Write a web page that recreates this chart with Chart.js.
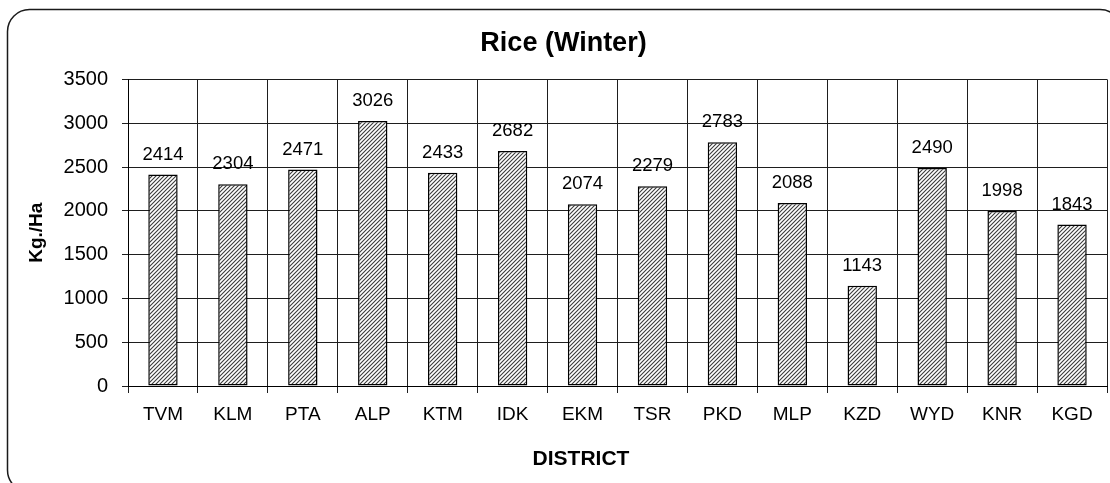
<!DOCTYPE html>
<html>
<head>
<meta charset="utf-8">
<script src="https://cdn.jsdelivr.net/npm/chart.js@4/dist/chart.umd.min.js"></script>
<style>
  html, body { margin: 0; padding: 0; background: #fff; }
  #wrap { width: 1110px; height: 483px; }
</style>
</head>
<body>
<div id="wrap"><canvas id="c" width="1110" height="483"></canvas></div>
<script>
// District-wise winter rice yield
const districts = ['TVM', 'KLM', 'PTA', 'ALP', 'KTM', 'IDK', 'EKM', 'TSR', 'PKD', 'MLP', 'KZD', 'WYD', 'KNR', 'KGD'];
const yieldKgHa = [2414, 2304, 2471, 3026, 2433, 2682, 2074, 2279, 2783, 2088, 1143, 2490, 1998, 1843];
const yTicks = [0, 500, 1000, 1500, 2000, 2500, 3000, 3500];

const FONT = '"Liberation Sans", Arial, Helvetica, sans-serif';

// diagonal hatch fill for the bars
function hatchPattern() {
  const t = document.createElement('canvas');
  t.width = 4; t.height = 4;
  const g = t.getContext('2d');
  g.fillStyle = '#ffffff';
  g.fillRect(0, 0, 4, 4);
  g.strokeStyle = '#3a3a3a';
  g.lineWidth = 1.1;
  g.beginPath();
  g.moveTo(-1, 5); g.lineTo(5, -1);
  g.moveTo(-3, 3); g.lineTo(3, -3);
  g.moveTo(1, 7); g.lineTo(7, 1);
  g.stroke();
  return document.getElementById('c').getContext('2d').createPattern(t, 'repeat');
}

// rounded outer frame
const framePlugin = {
  id: 'frame',
  beforeDraw(chart) {
    const ctx = chart.ctx;
    const l = 7.5, t = 9.5, r = 1122, b = 492, rad = 22;
    ctx.save();
    ctx.strokeStyle = '#1a1a1a';
    ctx.lineWidth = 1.5;
    ctx.beginPath();
    ctx.moveTo(l + rad, t);
    ctx.lineTo(r - rad, t);
    ctx.arcTo(r, t, r, t + rad, rad);
    ctx.lineTo(r, b - rad);
    ctx.arcTo(r, b, r - rad, b, rad);
    ctx.lineTo(l + rad, b);
    ctx.arcTo(l, b, l, b - rad, rad);
    ctx.lineTo(l, t + rad);
    ctx.arcTo(l, t, l + rad, t, rad);
    ctx.closePath();
    ctx.stroke();
    ctx.restore();
  }
};

// value labels above the bars and the category axis title
const labelPlugin = {
  id: 'valueLabels',
  afterDatasetsDraw(chart) {
    const ctx = chart.ctx;
    const meta = chart.getDatasetMeta(0);
    const data = chart.data.datasets[0].data;
    ctx.save();
    ctx.fillStyle = '#000';
    ctx.font = '18.5px ' + FONT;
    ctx.textAlign = 'center';
    ctx.textBaseline = 'alphabetic';
    meta.data.forEach((bar, i) => {
      ctx.fillText(String(data[i]), bar.x, bar.y - 15);
    });
    ctx.font = 'bold 21px ' + FONT;
    ctx.textBaseline = 'middle';
    ctx.fillText('DISTRICT', 581, 459);
    ctx.restore();
  }
};

new Chart(document.getElementById('c'), {
  type: 'bar',
  data: {
    labels: districts,
    datasets: [{
      data: yieldKgHa,
      backgroundColor: hatchPattern(),
      borderColor: '#000',
      borderWidth: 1.5,
      borderSkipped: false,
      categoryPercentage: 1.0,
      barPercentage: 0.42
    }]
  },
  options: {
    responsive: false,
    animation: false,
    devicePixelRatio: 1,
    layout: { padding: { left: 20, right: 3, top: 14, bottom: 0 } },
    plugins: {
      legend: { display: false },
      tooltip: { enabled: false },
      title: {
        display: true,
        text: 'Rice (Winter)',
        color: '#000',
        font: { family: FONT, size: 27, weight: 'bold', lineHeight: 1.2 },
        padding: { top: 13, bottom: 20 }
      }
    },
    scales: {
      x: {
        grid: {
          offset: true,
          color: '#1e1e1e',
          lineWidth: 1,
          drawTicks: true,
          tickLength: 7
        },
        border: { color: '#000', width: 1 },
        ticks: {
          color: '#000',
          font: { family: FONT, size: 19 },
          padding: 10,
          maxRotation: 0,
          autoSkip: false
        },
        afterFit(scale) { scale.height = 97; }
      },
      y: {
        min: 0,
        max: 3500,
        afterBuildTicks(scale) { scale.ticks = yTicks.map(v => ({ value: v })); },
        grid: {
          color: '#1e1e1e',
          lineWidth: 1,
          drawTicks: true,
          tickLength: 6
        },
        border: { color: '#000', width: 1 },
        ticks: {
          color: '#000',
          font: { family: FONT, size: 20 },
          padding: 14,
          callback: (v) => String(v)
        },
        title: {
          display: true,
          text: 'Kg./Ha',
          color: '#000',
          font: { family: FONT, size: 19, weight: 'bold', lineHeight: 1.2 },
          padding: { top: 5, bottom: 0 }
        },
        afterFit(scale) { scale.width = 108; }
      }
    }
  },
  plugins: [framePlugin, labelPlugin]
});
</script>
</body>
</html>
